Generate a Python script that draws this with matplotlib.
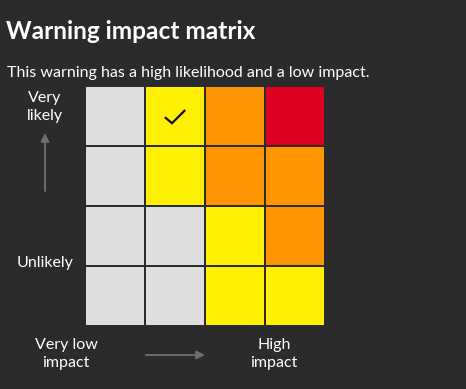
import matplotlib.pyplot as plt
import numpy as np
from matplotlib.colors import ListedColormap

# levels: 0 none, 1 yellow, 2 amber, 3 red ; rows from unlikely (bottom) to very likely (top)
likelihood_rows = ["Very unlikely", "Unlikely", "Likely", "Very likely"]
impact_cols = ["Very low", "Low", "Medium", "High"]
levels = [
    [0, 0, 1, 1],
    [0, 0, 1, 2],
    [0, 1, 2, 2],
    [0, 1, 2, 3],
]
current = (3, 1)  # (likelihood row, impact col)

title = "Warning impact matrix"
subtitle = "This warning has a high likelihood and a low impact."

bg = "#2b2b2b"
level_colors = ["#dedede", "#ffef00", "#ff9500", "#dd0020"]
arrow_col = "#6e6e6e"
font = ["Lato", "DejaVu Sans"]

W, H = 466, 389
fig = plt.figure(figsize=(W / 100, H / 100), dpi=100, facecolor=bg)

# text layer in pixel coords
tx = fig.add_axes([0, 0, 1, 1])
tx.set_xlim(0, W)
tx.set_ylim(H, 0)
tx.axis("off")

tx.text(6, 31, title, color="white", fontsize=17.6, fontweight="bold",
        family=font, va="center", ha="left")
tx.text(7, 73, subtitle, color="white", fontsize=11.5, family=font,
        va="center", ha="left")

lab = dict(color="white", fontsize=11.5, family=font, ha="center", va="center",
           linespacing=1.3)
tx.text(45, 107, "Very\nlikely", **lab)
tx.text(45, 263, "Unlikely", **lab)
tx.text(66, 354, "Very low\nimpact", **lab)
tx.text(274, 354, "High\nimpact", **lab)

tx.annotate("", xy=(45, 133), xytext=(45, 191),
            arrowprops=dict(arrowstyle="-|>,head_length=0.5,head_width=0.25",
                            color=arrow_col, lw=1.3, shrinkA=0, shrinkB=0))
tx.annotate("", xy=(205, 355), xytext=(146, 355),
            arrowprops=dict(arrowstyle="-|>,head_length=0.5,head_width=0.25",
                            color=arrow_col, lw=1.3, shrinkA=0, shrinkB=0))

# matrix
ax = fig.add_axes([85 / W, (H - 326) / H, 240 / W, 240 / H])
ax.set_facecolor(bg)
ax.pcolormesh(np.array(levels), cmap=ListedColormap(level_colors), vmin=-0.5, vmax=3.5,
              edgecolors=bg, linewidth=1.4)
ax.set_xlim(0, len(impact_cols))
ax.set_ylim(0, len(likelihood_rows))
ax.axis("off")

r, c = current
cx, cy = c + 0.5, r + 0.5
ax.plot([cx - 0.17, cx - 0.05, cx + 0.17], [cy - 0.02, cy - 0.12, cy + 0.1],
        color="#111111", lw=1.6, solid_joinstyle="miter", solid_capstyle="butt")

fig.savefig("out.png", dpi=100, facecolor=bg)
